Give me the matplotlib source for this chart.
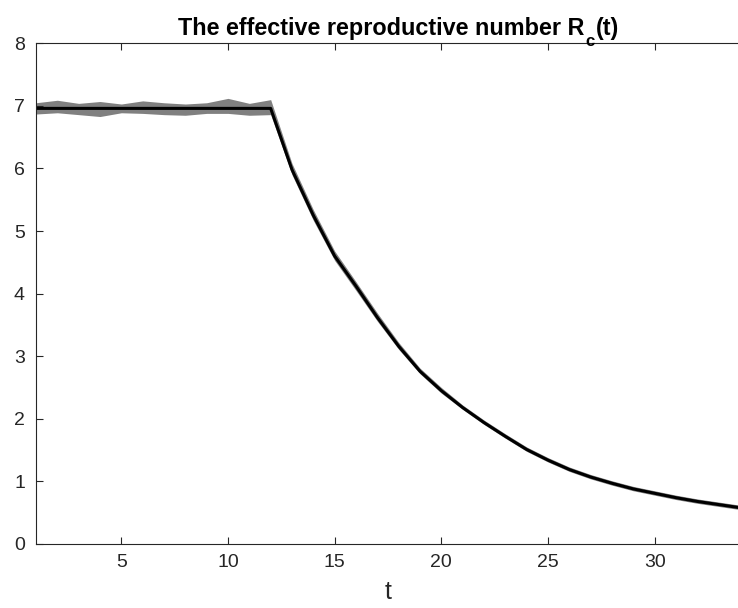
import numpy as np
import matplotlib
matplotlib.use("Agg")
import matplotlib.pyplot as plt

t = list(range(1, 35))
rc_mean = [6.96, 6.96, 6.96, 6.96, 6.96, 6.96, 6.96, 6.96, 6.96, 6.96, 6.96, 6.96,
           5.98, 5.25, 4.60, 4.12, 3.62, 3.16, 2.76, 2.45, 2.18, 1.94, 1.72, 1.51,
           1.34, 1.19, 1.07, 0.97, 0.88, 0.81, 0.74, 0.68, 0.63, 0.58]
rc_upper = [7.05, 7.09, 7.04, 7.07, 7.03, 7.08, 7.05, 7.03, 7.05, 7.12, 7.04, 7.10,
            6.08, 5.34, 4.68, 4.19, 3.69, 3.22, 2.81, 2.50, 2.22, 1.98, 1.76, 1.55,
            1.38, 1.23, 1.11, 1.01, 0.92, 0.85, 0.78, 0.72, 0.67, 0.62]
rc_lower = [6.87, 6.89, 6.86, 6.83, 6.89, 6.88, 6.86, 6.85, 6.88, 6.88, 6.85, 6.86,
            5.90, 5.17, 4.53, 4.05, 3.56, 3.11, 2.72, 2.41, 2.15, 1.91, 1.69, 1.48,
            1.31, 1.16, 1.04, 0.94, 0.85, 0.78, 0.71, 0.65, 0.60, 0.55]
x_ticks = [5, 10, 15, 20, 25, 30]
y_ticks = [0, 1, 2, 3, 4, 5, 6, 7, 8]
title_main = 'The effective reproductive number R'
title_sub = 'c'
title_tail = '(t)'

plt.rcParams['font.family'] = ['Liberation Sans', 'DejaVu Sans']

W, H = 738, 608
fig = plt.figure(figsize=(W/100, H/100), dpi=100)
ax = fig.add_axes([36/W, 64/H, 704/W, (544-43.3)/H])

ax.fill_between(t, rc_lower, rc_upper, color='#808080', linewidth=0, zorder=1)
ax.plot(t, rc_mean, color='black', linewidth=2.2, zorder=2)

ax.set_xlim(1, 34)
ax.set_ylim(0, 8)
ax.set_xticks(x_ticks)
ax.set_yticks(y_ticks)

edge = '#262626'
for s in ax.spines.values():
    s.set_color(edge)
    s.set_linewidth(0.8)
ax.spines['right'].set_visible(False)
ax.tick_params(direction='in', length=5, width=0.8, colors=edge, labelsize=14,
               top=True, right=False, labelcolor='#262626')
ax.tick_params(axis='x', pad=7)
ax.tick_params(axis='y', pad=8)
ax.set_xlabel('t', fontsize=18, color='#262626', labelpad=7)

# Title built from pieces so the subscript sits like the original
renderer = fig.canvas.get_renderer()
fs = 16
t1 = fig.text(178/W, 1 - 35/H, title_main, fontsize=fs, fontweight='bold',
              ha='left', va='baseline', color='black')
w1 = t1.get_window_extent(renderer).width
fs = fs * 407.0 / w1
t1.set_fontsize(fs)
bb1 = t1.get_window_extent(renderer)
t2 = fig.text((bb1.x1 + 1.5)/W, 1 - 46/H, title_sub, fontsize=fs*0.72, fontweight='bold',
              ha='left', va='baseline', color='black')
bb2 = t2.get_window_extent(renderer)
t3 = fig.text((bb2.x1 + 1.0)/W, 1 - 35/H, title_tail, fontsize=fs, fontweight='bold',
              ha='left', va='baseline', color='black')

fig.savefig('out.png', dpi=100)
